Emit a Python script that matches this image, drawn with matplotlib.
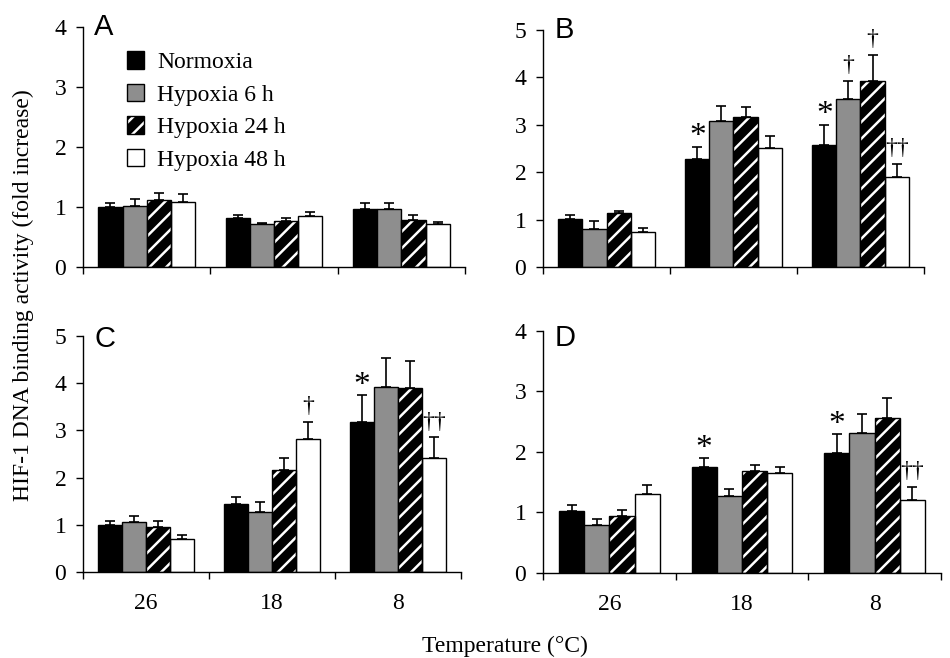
import numpy as np
import matplotlib
matplotlib.use("Agg")
import matplotlib.pyplot as plt
from matplotlib.legend_handler import HandlerTuple

plt.rcParams['font.family'] = ['Liberation Serif', 'DejaVu Serif']
plt.rcParams['hatch.linewidth'] = 1.8

temps = ["26", "18", "8"]
series = ["Normoxia", "Hypoxia 6 h", "Hypoxia 24 h", "Hypoxia 48 h"]

# mean values, rows = series, cols = temperature groups
a_mean = [[1.00, 0.81, 0.96],
          [1.02, 0.71, 0.97],
          [1.12, 0.76, 0.78],
          [1.09, 0.85, 0.71]]
a_err = [[0.07, 0.06, 0.11],
         [0.12, 0.02, 0.10],
         [0.12, 0.06, 0.09],
         [0.13, 0.07, 0.04]]

b_mean = [[1.01, 2.28, 2.58],
          [0.80, 3.09, 3.55],
          [1.14, 3.16, 3.93],
          [0.74, 2.51, 1.90]]
b_err = [[0.09, 0.26, 0.42],
         [0.18, 0.31, 0.38],
         [0.05, 0.21, 0.55],
         [0.08, 0.25, 0.28]]

c_mean = [[1.00, 1.43, 3.18],
          [1.06, 1.27, 3.92],
          [0.96, 2.17, 3.90],
          [0.69, 2.82, 2.41]]
c_err = [[0.09, 0.15, 0.56],
         [0.12, 0.21, 0.61],
         [0.13, 0.25, 0.57],
         [0.09, 0.36, 0.44]]

d_mean = [[1.02, 1.76, 1.98],
          [0.79, 1.27, 2.31],
          [0.95, 1.69, 2.56],
          [1.31, 1.66, 1.21]]
d_err = [[0.11, 0.14, 0.31],
         [0.10, 0.12, 0.31],
         [0.09, 0.10, 0.33],
         [0.14, 0.10, 0.21]]

# significance marks: (series index, group index, symbol)
a_marks = []
b_marks = [(0, 1, "*"), (0, 2, "*"), (1, 2, "†"), (2, 2, "†"), (3, 2, "††")]
c_marks = [(3, 1, "†"), (0, 2, "*"), (3, 2, "††")]
d_marks = [(0, 1, "*"), (0, 2, "*"), (3, 2, "††")]

colors = ["black", "#8e8e8e", "black", "white"]
bar_w = 0.19


def draw_panel(ax, means, errs, marks, ymax, letter, letter_dy, xlabels,
               legend=False):
    x = np.arange(len(temps))
    handles = []
    for i in range(len(series)):
        xs = x + (i - 1.5) * bar_w
        if i == 2:
            h1 = ax.bar(xs, means[i], bar_w, color="black", edgecolor="white",
                        hatch="//", linewidth=0, zorder=2)
            h2 = ax.bar(xs, means[i], bar_w, fill=False, edgecolor="black",
                        linewidth=1.0, zorder=3)
            handles.append((h1, h2))
        else:
            h = ax.bar(xs, means[i], bar_w, color=colors[i], edgecolor="black",
                       linewidth=1.0, zorder=2)
            handles.append(h)
        ax.errorbar(xs, means[i], yerr=[np.zeros(len(temps)), errs[i]],
                    fmt="none", ecolor="black", elinewidth=1.2, capsize=3.6,
                    capthick=1.2, zorder=1)
    for si, gi, sym in marks:
        xx = gi + (si - 1.5) * bar_w
        yy = means[si][gi] + errs[si][gi]
        if sym == "*":
            ax.annotate(sym, (xx, yy), xytext=(0, 1), textcoords="offset points",
                        ha="center", va="baseline", fontsize=24)
        else:
            ax.annotate(sym, (xx, yy), xytext=(0, 7), textcoords="offset points",
                        ha="center", va="baseline", fontsize=17)

    ax.set_xlim(-0.5, 2.5)
    ax.set_ylim(0, ymax)
    ax.set_yticks(range(ymax + 1))
    ax.set_xticks([-0.5, 0.5, 1.5, 2.5])
    ax.set_xticklabels([])
    ax.set_xticks(x, minor=True)
    if xlabels:
        ax.set_xticklabels(temps, minor=True)
    ax.tick_params(axis="x", which="minor", length=0, pad=15, labelsize=17)
    ax.tick_params(axis="both", which="major", direction="out", length=5,
                   width=1, labelsize=17)
    ax.tick_params(axis="y", pad=7)
    for s in ["top", "right"]:
        ax.spines[s].set_visible(False)
    for s in ["left", "bottom"]:
        ax.spines[s].set_linewidth(1.0)
    ax.annotate(letter, (0, 1), xycoords="axes fraction", xytext=(8, letter_dy),
                textcoords="offset points", fontsize=21,
                family="Liberation Sans", va="top", ha="left")
    if legend:
        ax.legend(handles, series, loc="upper left", bbox_to_anchor=(0.065, 0.977),
                  frameon=False, fontsize=17, handlelength=0.75,
                  handleheight=0.75, handletextpad=0.55, labelspacing=0.45,
                  borderpad=0.3,
                  handler_map={tuple: HandlerTuple(ndivide=1)})


fig = plt.figure(figsize=(9.5, 6.58), dpi=100)
ax_a = fig.add_axes([0.0874, 0.5942, 0.4021, 0.3648])
ax_b = fig.add_axes([0.5716, 0.5942, 0.4010, 0.3602])
ax_c = fig.add_axes([0.0874, 0.1307, 0.3979, 0.3587])
ax_d = fig.add_axes([0.5716, 0.1292, 0.4189, 0.3678])

draw_panel(ax_a, a_mean, a_err, a_marks, 4, "A", 10, False, legend=True)
draw_panel(ax_b, b_mean, b_err, b_marks, 5, "B", 10, False)
draw_panel(ax_c, c_mean, c_err, c_marks, 5, "C", 8, True)
draw_panel(ax_d, d_mean, d_err, d_marks, 4, "D", 5, True)

fig.text(0.531, 0.018, "Temperature (°C)", ha="center", va="center",
         fontsize=17)
fig.text(0.025, 0.552, "HIF-1 DNA binding activity (fold increase)",
         rotation=90, ha="center", va="center", fontsize=17)

fig.savefig("out.png", dpi=100)
